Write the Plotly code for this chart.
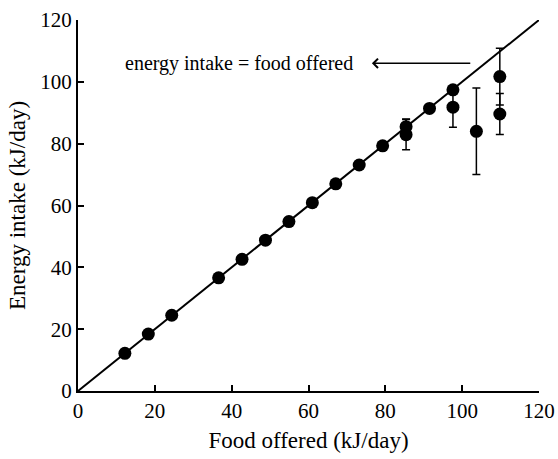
import plotly.graph_objects as go

# Data
food_offered = [12.2, 18.3, 24.4, 36.6, 42.7, 48.8, 54.9, 61.0, 67.1, 73.2, 79.3,
                85.4, 85.4, 91.5, 97.6, 97.6, 103.7, 109.8, 109.8]
energy_intake = [12.2, 18.4, 24.5, 36.6, 42.6, 48.8, 54.8, 60.9, 67.0, 73.1, 79.3,
                 85.5, 82.9, 91.4, 97.4, 91.8, 84.0, 101.7, 89.6]
intake_err = [0, 0, 0, 0, 0, 0, 0, 0, 0, 0, 0,
              2.5, 4.9, 0, 0, 6.5, 14.0, 9.2, 6.6]
identity_x = [0, 120]
identity_y = [0, 120]
tick_vals = [0, 20, 40, 60, 80, 100, 120]

FONT = "Liberation Serif"

fig = go.Figure()
fig.add_trace(go.Scatter(x=identity_x, y=identity_y, mode="lines",
                         line=dict(color="black", width=2), hoverinfo="skip",
                         cliponaxis=False))

ex = [x for x, e in zip(food_offered, intake_err) if e > 0]
ey = [y for y, e in zip(energy_intake, intake_err) if e > 0]
ee = [e for e in intake_err if e > 0]
fig.add_trace(go.Scatter(x=ex, y=ey, mode="markers",
                         marker=dict(color="black", size=13),
                         error_y=dict(type="data", array=ee, color="black",
                                      thickness=1.5, width=4)))
nx = [x for x, e in zip(food_offered, intake_err) if e == 0]
ny = [y for y, e in zip(energy_intake, intake_err) if e == 0]
fig.add_trace(go.Scatter(x=nx, y=ny, mode="markers",
                         marker=dict(color="black", size=13)))

fig.add_annotation(x=76.5, y=106, ax=102.5, ay=106, xref="x", yref="y",
                   axref="x", ayref="y", showarrow=True, arrowhead=4,
                   arrowsize=1.2, arrowwidth=1.5, arrowcolor="black", text="")
fig.add_annotation(x=11.7, y=106, xref="x", yref="y", xanchor="left",
                   yanchor="middle", showarrow=False,
                   text="energy intake = food offered",
                   font=dict(family=FONT, size=20, color="black"))

axis_common = dict(range=[0, 120], tickvals=tick_vals, ticks="inside",
                   ticklen=6, tickwidth=1.5, tickcolor="black",
                   showline=True, linecolor="black", linewidth=2,
                   showgrid=False, zeroline=False, automargin=False,
                   tickfont=dict(family=FONT, size=21, color="black"))
fig.update_xaxes(**axis_common,
                 title=dict(text="Food offered (kJ/day)", standoff=10,
                            font=dict(family=FONT, size=23, color="black")))
fig.update_yaxes(**axis_common,
                 title=dict(text="Energy intake (kJ/day)", standoff=8,
                            font=dict(family=FONT, size=23, color="black")))

fig.update_layout(width=558, height=459, showlegend=False,
                  margin=dict(l=78, r=19, t=20, b=68),
                  font=dict(family=FONT, color="black"),
                  plot_bgcolor="white", paper_bgcolor="white")

fig.write_html("out.html")
